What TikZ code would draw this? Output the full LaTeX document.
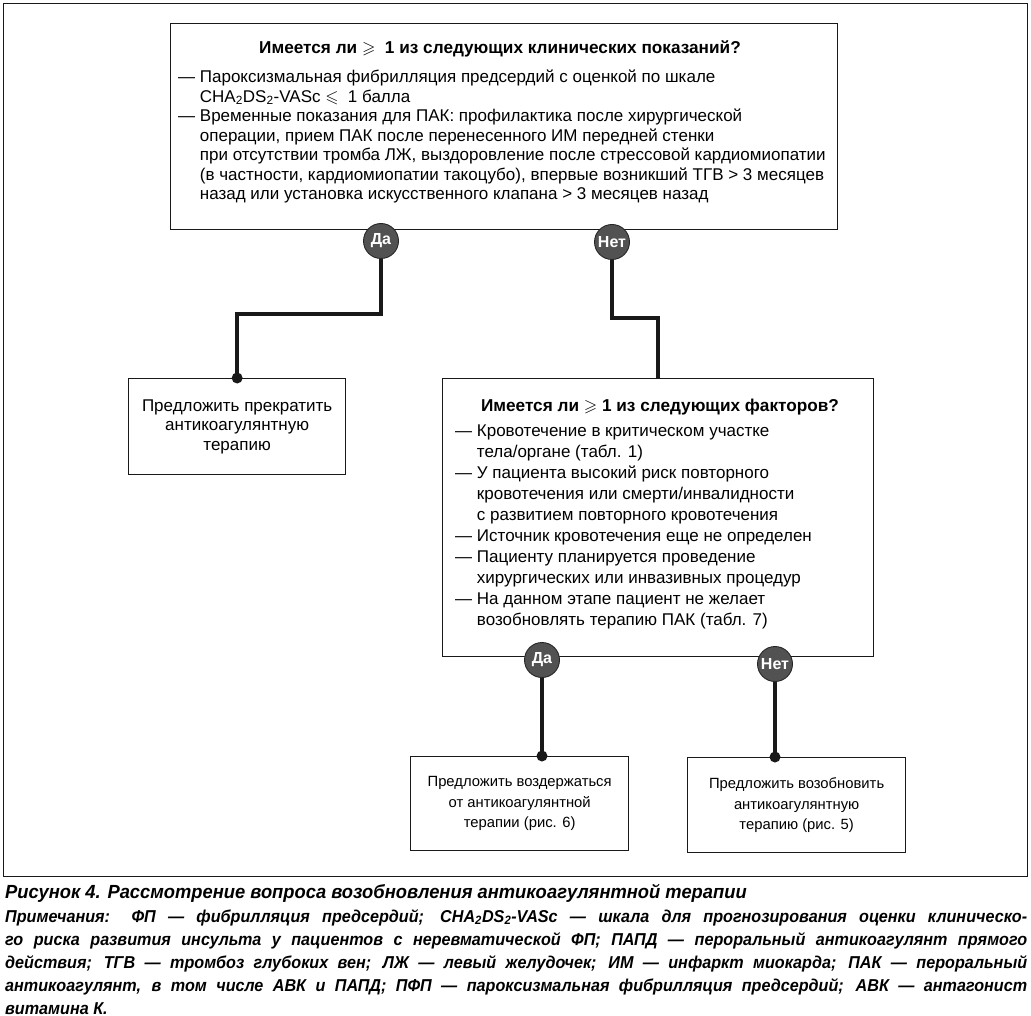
\documentclass[tikz,border=0pt]{standalone}
\usepackage{fontspec}
\usepackage{amssymb}
\setmainfont{Liberation Sans}
\newfontfamily\capfont[FakeStretch=0.965]{Liberation Sans}
\newfontfamily\notefont[FakeStretch=0.94]{Liberation Sans}
\begin{document}
\begin{tikzpicture}[x=1pt,y=-1pt,
  box/.style={draw=black!90, line width=1.3pt, inner sep=0},
  yn/.style={circle, draw=black!85, line width=0.9pt, fill=black!68, text=white,
    font=\bfseries\fontsize{16}{16}\selectfont, minimum size=35pt, inner sep=0},
  conn/.style={line width=4pt, black!90},
  dotmark/.style={circle, fill=black!90, inner sep=0, minimum size=11pt},
  body/.style={font=\fontsize{17}{19.5}\selectfont, align=left, inner sep=0},
  bodyb/.style={font=\fontsize{17}{21}\selectfont, align=left, inner sep=0},
  small/.style={font=\fontsize{14.8}{20.5}\selectfont, align=center},
  head/.style={font=\bfseries\fontsize{17.2}{19}\selectfont, inner sep=0},
  capt/.style={font=\capfont\bfseries\itshape\fontsize{19}{23}\selectfont, inner sep=0},
  notes/.style={font=\notefont\bfseries\itshape\fontsize{17.2}{23}\selectfont, inner sep=0, align=left},
]
\useasboundingbox (0,0) rectangle (1031,1016);
\node[box, minimum width=1024, minimum height=873, anchor=north west] (frame) at (3,3) {};

% top question
\node[box, minimum width=667, minimum height=206, anchor=north west] (q1) at (170,23) {};
\node[head] (q1title) at (500,49) {Имеется ли $\geqslant$\ \ 1 из следующих клинических показаний?};
\node[body, anchor=north west] (q1list) at (178,70) {%
— Пароксизмальная фибрилляция предсердий с оценкой по шкале\\
\phantom{— }CHA\textsubscript{2}DS\textsubscript{2}-VASc $\leqslant$\ \ 1 балла\\
— Временные показания для ПАК: профилактика после хирургической\\
\phantom{— }операции, прием ПАК после перенесенного ИМ передней стенки\\
\phantom{— }при отсутствии тромба ЛЖ, выздоровление после стрессовой кардиомиопатии\\
\phantom{— }(в частности, кардиомиопатии такоцубо), впервые возникший ТГВ > 3 месяцев\\
\phantom{— }назад или установка искусственного клапана > 3 месяцев назад};
\node[yn] (q1yes) at (381,241) {Да};
\node[yn] (q1no) at (612,242) {Нет};

% stop
\node[box, minimum width=217, minimum height=96, anchor=north west, body, align=center, inner sep=0] (stop) at (128,378) {Предложить прекратить\\антикоагулянтную\\терапию};

% second question
\node[box, minimum width=431, minimum height=278, anchor=north west] (q2) at (442,378) {};
\node[head] (q2title) at (660,407) {Имеется ли $\geqslant$ 1 из следующих факторов?};
\node[bodyb, anchor=north west] (q2list) at (455,425) {%
— Кровотечение в критическом участке\\
\phantom{— }тела/органе (табл. 1)\\
— У пациента высокий риск повторного\\
\phantom{— }кровотечения или смерти/инвалидности\\
\phantom{— }с развитием повторного кровотечения\\
— Источник кровотечения еще не определен\\
— Пациенту планируется проведение\\
\phantom{— }хирургических или инвазивных процедур\\
— На данном этапе пациент не желает\\
\phantom{— }возобновлять терапию ПАК (табл. 7)};
\node[yn] (q2yes) at (542,660) {Да};
\node[yn] (q2no) at (775,664) {Нет};

% outcomes
\node[box, minimum width=218, minimum height=94, small, anchor=north west] (hold) at (410,756) {Предложить воздержаться\\от антикоагулянтной\\терапии (рис. 6)};
\node[box, minimum width=218, minimum height=95, small, anchor=north west] (resume) at (687,757) {Предложить возобновить\\антикоагулянтную\\терапию (рис. 5)};

% connectors
\coordinate (bendA) at (381,314);
\coordinate (bendB) at (612,318);
\draw[conn] (q1yes.south) -- (bendA) -| (stop.north);
\node[dotmark] (dotA) at (stop.north) {};
\draw[conn] (q1no.south) -- (bendB) -| (q2.north);
\coordinate (endC) at (q2yes |- hold.north);
\coordinate (endD) at (q2no |- resume.north);
\draw[conn] (q2yes.south) -- (endC);
\draw[conn] (q2no.south) -- (endD);
\node[dotmark] (dotC) at (endC) {};
\node[dotmark] (dotD) at (endD) {};

% caption
\node[capt, anchor=west] (cap) at (5,893) {Рисунок 4. Рассмотрение вопроса возобновления антикоагулянтной терапии};
\node[notes, anchor=north west] (note) at (5,909) {%
\makebox[1022pt][s]{Примечания: ФП — фибрилляция предсердий; CHA\textsubscript{2}DS\textsubscript{2}-VASc — шкала для прогнозирования оценки клиническо-}\\
\makebox[1022pt][s]{го риска развития инсульта у пациентов с неревматической ФП; ПАПД — пероральный антикоагулянт прямого}\\
\makebox[1022pt][s]{действия; ТГВ — тромбоз глубоких вен; ЛЖ — левый желудочек; ИМ — инфаркт миокарда; ПАК — пероральный}\\
\makebox[1022pt][s]{антикоагулянт, в том числе АВК и ПАПД; ПФП — пароксизмальная фибрилляция предсердий; АВК — антагонист}\\
витамина К.};
\end{tikzpicture}
\end{document}
